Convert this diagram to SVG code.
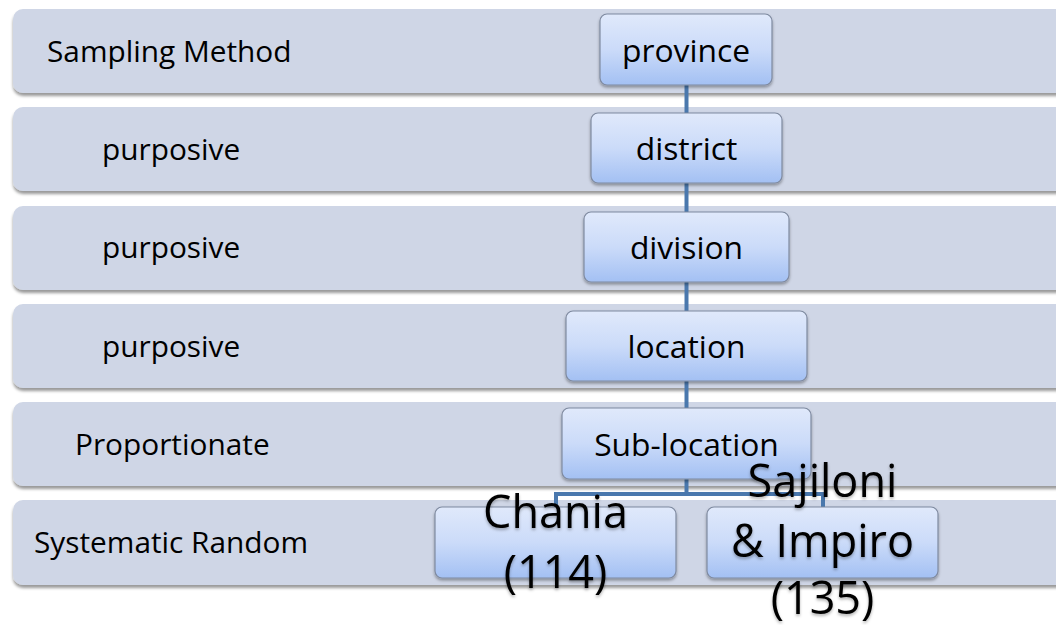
<svg xmlns="http://www.w3.org/2000/svg" width="1056" height="625" viewBox="0 0 1056 625">
  <defs>
    <linearGradient id="nodeFill" x1="0" y1="0" x2="0" y2="1">
      <stop offset="0" stop-color="#e0e9fb"/>
      <stop offset="0.5" stop-color="#cbdbf9"/>
      <stop offset="1" stop-color="#a3c0f3"/>
    </linearGradient>
    <filter id="bandShadow" x="-5%" y="-20%" width="110%" height="150%">
      <feDropShadow dx="0" dy="3" stdDeviation="1.6" flood-color="#000" flood-opacity="0.4"/>
    </filter>
    <filter id="nodeShadow" x="-10%" y="-20%" width="120%" height="150%">
      <feDropShadow dx="0" dy="2" stdDeviation="1.5" flood-color="#000" flood-opacity="0.35"/>
    </filter>
    <filter id="textShadow" x="-10%" y="-20%" width="120%" height="150%">
      <feDropShadow dx="0" dy="2" stdDeviation="1.5" flood-color="#000" flood-opacity="0.3"/>
    </filter>
  </defs>
  <style>
    .band { fill: #cfd6e6; filter: url(#bandShadow); }
    .method { font-family: "Open Sans", "Liberation Sans", sans-serif; font-size: 29.8px; fill: #000; }
    .node rect { fill: url(#nodeFill); stroke: #7f8aa0; stroke-width: 1.2; filter: url(#nodeShadow); }
    .label { font-family: "Open Sans", "Liberation Sans", sans-serif; font-size: 31.8px; fill: #000; text-anchor: middle; }
    .big { font-family: "Open Sans", "Liberation Sans", sans-serif; font-size: 45px; fill: #000; text-anchor: middle; filter: url(#textShadow); }
    .link { fill: none; stroke: #4a78ad; stroke-width: 4; }
  </style>

  <rect width="1056" height="625" fill="#ffffff"/>

  <!-- level bands with the sampling method of each level -->
  <g id="band-header">
    <rect class="band" x="13" y="9" width="1060" height="84" rx="10"/>
    <text class="method" x="47" y="62">Sampling Method</text>
  </g>
  <g id="band-district">
    <rect class="band" x="13" y="107" width="1060" height="84" rx="10"/>
    <text class="method" x="102" y="160">purposive</text>
  </g>
  <g id="band-division">
    <rect class="band" x="13" y="206" width="1060" height="84" rx="10"/>
    <text class="method" x="102" y="258">purposive</text>
  </g>
  <g id="band-location">
    <rect class="band" x="13" y="304" width="1060" height="84" rx="10"/>
    <text class="method" x="102" y="357">purposive</text>
  </g>
  <g id="band-sublocation">
    <rect class="band" x="13" y="402" width="1060" height="84" rx="10"/>
    <text class="method" x="75" y="455">Proportionate</text>
  </g>
  <g id="band-sample">
    <rect class="band" x="13" y="500" width="1060" height="85" rx="10"/>
    <text class="method" x="34" y="553">Systematic Random</text>
  </g>

  <!-- hierarchy connectors -->
  <g id="connectors">
    <line class="link" x1="686.5" y1="85" x2="686.5" y2="113"/>
    <line class="link" x1="686.5" y1="183" x2="686.5" y2="212"/>
    <line class="link" x1="686.5" y1="282" x2="686.5" y2="311"/>
    <line class="link" x1="686.5" y1="381" x2="686.5" y2="408"/>
    <polyline class="link" points="686.5,479 686.5,494"/>
    <polyline class="link" points="556,507 556,494 823,494 823,507"/>
  </g>

  <!-- hierarchy nodes -->
  <g id="node-province" class="node">
    <rect x="600" y="14" width="172" height="71" rx="7"/>
    <text class="label" x="686" y="62">province</text>
  </g>
  <g id="node-district" class="node">
    <rect x="591" y="113" width="191" height="70" rx="7"/>
    <text class="label" x="686.5" y="160">district</text>
  </g>
  <g id="node-division" class="node">
    <rect x="584" y="212" width="205" height="70" rx="7"/>
    <text class="label" x="686.5" y="259">division</text>
  </g>
  <g id="node-location" class="node">
    <rect x="566" y="311" width="241" height="70" rx="7"/>
    <text class="label" x="686.5" y="358">location</text>
  </g>
  <g id="node-sublocation" class="node">
    <rect x="562" y="408" width="249" height="71" rx="7"/>
    <text class="label" x="686.5" y="456">Sub-location</text>
  </g>
  <g id="node-chania" class="node">
    <rect x="435" y="507" width="241" height="71" rx="7"/>
    <text class="big" x="555.5" y="528">Chania</text>
    <text class="big" x="555.5" y="588">(114)</text>
  </g>
  <g id="node-sajiloni" class="node">
    <rect x="707" y="507" width="231" height="71" rx="7"/>
    <text class="big" x="822.5" y="497">Sajiloni</text>
    <text class="big" x="822.5" y="557">&amp; Impiro</text>
    <text class="big" x="822.5" y="614">(135)</text>
  </g>
</svg>
